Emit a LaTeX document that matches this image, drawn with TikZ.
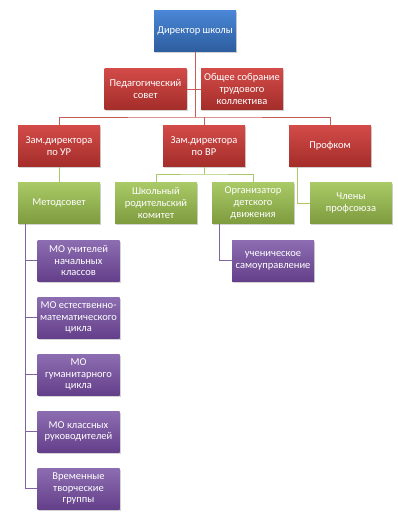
\documentclass[tikz,border=0pt]{standalone}
\usepackage{fontspec}
\setmainfont{Carlito}
\usetikzlibrary{shadows}
\definecolor{bluetop}{HTML}{4A86D6}
\definecolor{bluebot}{HTML}{2D5E9E}
\definecolor{redtop}{HTML}{D24B48}
\definecolor{redbot}{HTML}{A42D2A}
\definecolor{greentop}{HTML}{A9CA66}
\definecolor{greenbot}{HTML}{7E9B3E}
\definecolor{purptop}{HTML}{8D6DB1}
\definecolor{purpbot}{HTML}{64408A}
\definecolor{redln}{HTML}{C85A57}
\definecolor{greenln}{HTML}{A9C86A}
\definecolor{purpln}{HTML}{8064A2}
\begin{document}
\begin{tikzpicture}[x=1pt,y=-1pt,
  box/.style={rectangle, minimum width=82pt, minimum height=41pt, inner sep=1pt,
    align=center, text=white, font=\fontsize{10.5}{11.8}\selectfont,
    drop shadow={shadow xshift=1pt, shadow yshift=-1.5pt, opacity=0.35}},
  bluebox/.style={box, top color=bluetop, bottom color=bluebot},
  redbox/.style={box, top color=redtop, bottom color=redbot},
  greenbox/.style={box, top color=greentop, bottom color=greenbot},
  purpbox/.style={box, top color=purptop, bottom color=purpbot},
  redline/.style={draw=redln, line width=1pt},
  greenline/.style={draw=greenln, line width=1pt},
  purpline/.style={draw=purpln, line width=1pt}]
\useasboundingbox (0,0) rectangle (397,517);
% bar points
\coordinate (b1) at (195,117);
\coordinate (b2) at (204,174);
\node[bluebox] (dir) at (195,31) {Директор школы};
\node[redbox] (ped) at (145.5,89) {Педагогический\\совет};
\node[redbox] (sob) at (242,89) {Общее собрание\\трудового\\коллектива};
\node[redbox] (zur) at (59,146) {Зам.директора\\по УР};
\node[redbox] (zvr) at (204,146) {Зам.директора\\по ВР};
\node[redbox] (prof) at (330,146) {Профком};
\node[greenbox] (met) at (59,203) {Методсовет};
\node[greenbox] (rod) at (156,203) {Школьный\\родительский\\комитет};
\node[greenbox] (org) at (253,203) {Организатор\\детского\\движения};
\node[greenbox] (chl) at (351,203) {Члены\\профсоюза};
\node[purpbox] (mo1) at (78.5,260.5) {МО учителей\\начальных\\классов};
\node[purpbox] (mo2) at (78.5,317.5) {МО естественно-\\математического\\цикла};
\node[purpbox] (mo3) at (78.5,374.5) {МО\\гуманитарного\\цикла};
\node[purpbox] (mo4) at (78.5,431.5) {МО классных\\руководителей};
\node[purpbox] (mo5) at (78.5,488.5) {Временные\\творческие\\группы};
\node[purpbox] (uch) at (273,260.5) {ученическое\\самоуправление};
% lines
\draw[redline] (dir.south) -- (b1);
\draw[redline] (ped) -- (sob);
\draw[redline] (zur.north) |- (b1) -| (prof.north);
\draw[redline] (zvr.north) -- (zvr.north |- b1);
\draw[greenline] (zur.south) -- (met.north);
\draw[greenline] (zvr.south) -- (b2);
\draw[greenline] (rod.north) |- (b2) -| (org.north);
\draw[greenline] ([xshift=9pt]prof.south west) |- (chl.west);
\foreach \m in {mo1,mo2,mo3,mo4,mo5}
  \draw[purpline] ([xshift=8pt]met.south west) |- (\m.west);
\draw[purpline] ([xshift=8pt]org.south west) |- (uch.west);
\end{tikzpicture}
\end{document}
